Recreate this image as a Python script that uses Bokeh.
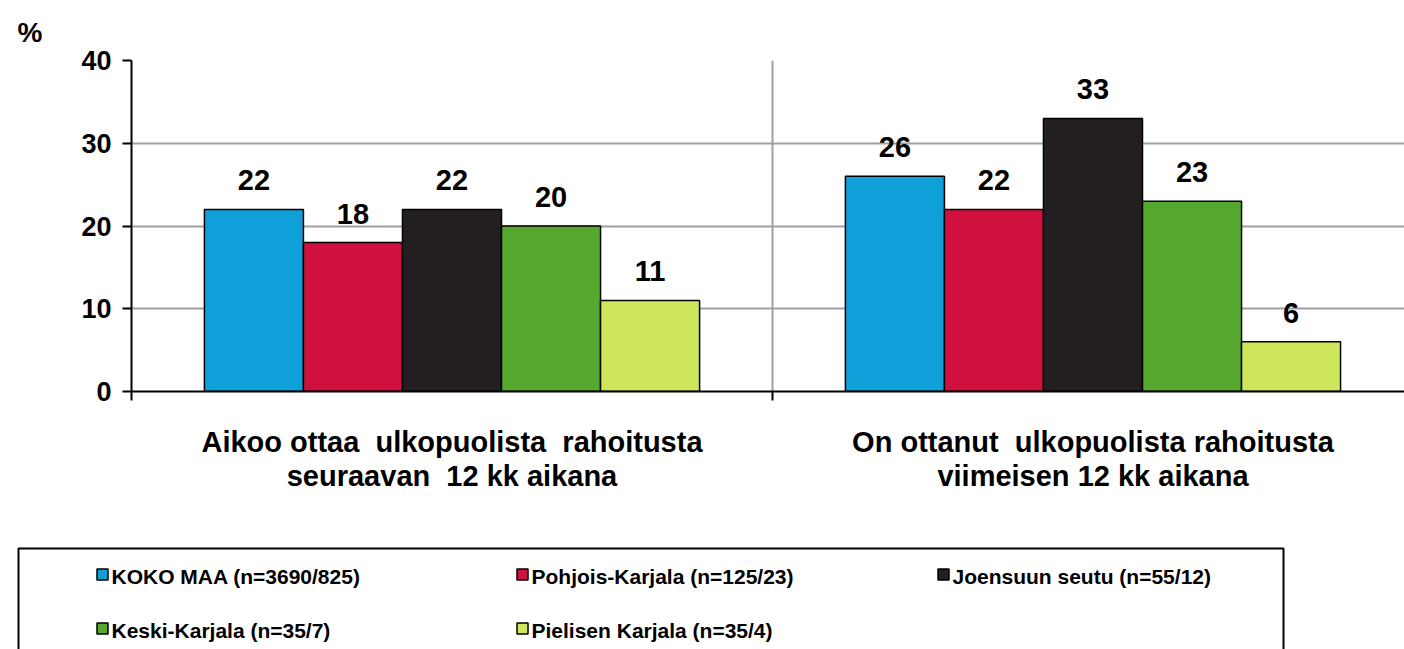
from bokeh.plotting import figure
from bokeh.models import Range1d, FixedTicker, LabelSet, ColumnDataSource
from bokeh.core.properties import value
from bokeh.embed import file_html
from bokeh.resources import INLINE

NB = "\u00a0"
categories = [f"Aikoo ottaa {NB}ulkopuolista {NB}rahoitusta\nseuraavan {NB}12 kk aikana",
              f"On ottanut {NB}ulkopuolista rahoitusta\nviimeisen 12 kk aikana"]
series = ["KOKO MAA (n=3690/825)", "Pohjois-Karjala (n=125/23)", "Joensuun seutu (n=55/12)",
          "Keski-Karjala (n=35/7)", "Pielisen Karjala (n=35/4)"]
values = [[22, 26], [18, 22], [22, 33], [20, 23], [11, 6]]
colors = ["#0F9FD9", "#D0103F", "#231F20", "#56A92E", "#CEE75A"]
yticks = [0, 10, 20, 30, 40]

FONT = "Liberation Sans"
W = 1404
bar_w = 0.1545

p = figure(width=W, height=541, output_backend="svg", toolbar_location=None,
           x_range=Range1d(0, 1.986), y_range=Range1d(0, 40),
           min_border_left=131, min_border_top=60, min_border_bottom=150, min_border_right=0)
p.outline_line_color = None
p.background_fill_color = "white"

p.title.text = "%"
p.title.align = "left"
p.title.offset = -114
p.title.standoff = 25
p.title.text_font = FONT
p.title.text_font_style = "bold"
p.title.text_font_size = "28px"
p.title.text_color = "black"

for i, name in enumerate(series):
    xs = [c + 0.5 + (i - 2) * bar_w for c in range(len(categories))]
    src = ColumnDataSource(dict(x=xs, top=values[i], lab=[str(v) for v in values[i]]))
    p.vbar(x="x", top="top", width=bar_w, source=src, fill_color=colors[i],
           line_color="black", line_width=1.5)
    p.add_layout(LabelSet(x="x", y="top", text="lab", source=src, y_offset=19,
                          text_align="center", text_baseline="bottom",
                          text_font=value(FONT), text_font_style="bold",
                          text_font_size="29px", text_color="black"))

# y axis
p.yaxis.ticker = FixedTicker(ticks=yticks)
p.yaxis.axis_line_color = "black"
p.yaxis.axis_line_width = 2
p.yaxis.major_tick_line_color = "black"
p.yaxis.major_tick_line_width = 2
p.yaxis.major_tick_out = 9
p.yaxis.major_tick_in = 0
p.yaxis.minor_tick_line_color = None
p.yaxis.major_label_standoff = 11
p.yaxis.major_label_text_font = FONT
p.yaxis.major_label_text_font_style = "bold"
p.yaxis.major_label_text_font_size = "27px"
p.yaxis.major_label_text_color = "black"

# x axis
p.xaxis.ticker = FixedTicker(ticks=[0.5, 1.5], minor_ticks=[0, 1])
p.xaxis.major_label_overrides = {0.5: categories[0], 1.5: categories[1]}
p.xaxis.axis_line_color = "black"
p.xaxis.axis_line_width = 2
p.xaxis.major_tick_line_color = None
p.xaxis.minor_tick_line_color = "black"
p.xaxis.minor_tick_line_width = 2
p.xaxis.minor_tick_out = 9
p.xaxis.minor_tick_in = 0
p.xaxis.major_tick_out = 9
p.xaxis.major_label_standoff = 25
p.xaxis.major_label_text_font = FONT
p.xaxis.major_label_text_font_style = "bold"
p.xaxis.major_label_text_font_size = "29px"
p.xaxis.major_label_text_color = "black"
p.xaxis.major_label_text_line_height = 1.08

p.ygrid.ticker = FixedTicker(ticks=yticks[1:])
p.ygrid.grid_line_color = "#A0A0A0"
p.ygrid.grid_line_width = 2
p.xgrid.ticker = FixedTicker(ticks=[1])
p.xgrid.grid_line_color = "#A0A0A0"
p.xgrid.grid_line_width = 2

# legend figure
LH = 108
lg = figure(width=W, height=LH, output_backend="svg", toolbar_location=None,
            x_range=Range1d(0, W), y_range=Range1d(0, LH),
            min_border=0, min_border_left=0, min_border_right=0, min_border_top=0, min_border_bottom=0)
lg.axis.visible = False
lg.grid.visible = False
lg.outline_line_color = None
lg.quad(left=[18], right=[1283], top=[LH - 7], bottom=[-20], fill_color=None,
        line_color="black", line_width=2)
col_x = [102, 522, 943]
row_y = [LH - 33, LH - 87]
lx, ly = [], []
for i in range(len(series)):
    lx.append(col_x[i % 3])
    ly.append(row_y[i // 3])
lsrc = ColumnDataSource(dict(x=lx, y=ly, tx=[x + 9 for x in lx], ty=[y - 2 for y in ly],
                             c=colors, t=series))
lg.scatter(x="x", y="y", marker="square", size=11, fill_color="c", line_color="black",
           line_width=1.5, source=lsrc)
lg.text(x="tx", y="ty", text="t", source=lsrc, text_font=value(FONT),
        text_font_style="bold", text_font_size="21px", text_baseline="middle",
        text_align="left", text_color="black")

open("out.html", "w").write(file_html([p, lg], INLINE))
